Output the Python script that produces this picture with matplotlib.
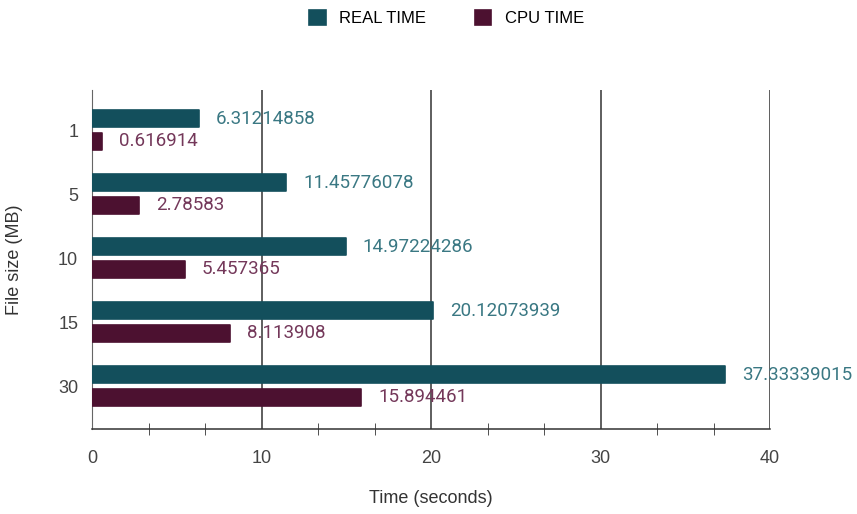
import matplotlib
matplotlib.use('Agg')
import matplotlib.pyplot as plt
import numpy as np
from matplotlib.ticker import MultipleLocator

# data
sizes = ['1', '5', '10', '15', '30']
real_time = [6.31214858, 11.45776078, 14.97224286, 20.12073939, 37.33339015]
cpu_time = [0.616914, 2.78583, 5.457365, 8.113908, 15.894461]
real_labels = ['6.31214858', '11.45776078', '14.97224286', '20.12073939', '37.33339015']
cpu_labels = ['0.616914', '2.78583', '5.457365', '8.113908', '15.894461']

REAL_COLOR = '#134f5c'
CPU_COLOR = '#4c1130'
REAL_TXT = '#3a7883'
CPU_TXT = '#74385a'

fig = plt.figure(figsize=(8.57, 5.14), dpi=100, facecolor='white')
ax = fig.add_axes([0.1074, 0.1654, 0.7911, 0.6595])

y = np.arange(len(sizes))
h = 0.265
off = 0.175

b1 = ax.barh(y - off, real_time, height=h, color=REAL_COLOR,
             edgecolor=REAL_COLOR, linewidth=1.2, joinstyle='round',
             label='REAL TIME', zorder=3)
b2 = ax.barh(y + off, cpu_time, height=h, color=CPU_COLOR,
             edgecolor=CPU_COLOR, linewidth=1.2, joinstyle='round',
             label='CPU TIME', zorder=3)

for bar, txt in zip(b1, real_labels):
    ax.text(bar.get_width() + 1.0, bar.get_y() + bar.get_height() / 2, txt,
            va='center', ha='left', fontsize=13.5, color=REAL_TXT,
            family='Roboto', zorder=4, clip_on=False)
for bar, txt in zip(b2, cpu_labels):
    ax.text(bar.get_width() + 1.0, bar.get_y() + bar.get_height() / 2, txt,
            va='center', ha='left', fontsize=13.5, color=CPU_TXT,
            family='Roboto', zorder=4)

ax.set_xlim(0, 40)
ax.set_ylim(4.67, -0.625)
ax.set_yticks(y)
ax.set_yticklabels(sizes)

ax.xaxis.set_major_locator(MultipleLocator(10))
ax.xaxis.set_minor_locator(MultipleLocator(10 / 3))
ax.grid(axis='x', which='major', color='#333333', linewidth=1.1, zorder=1)

for s in ['top', 'right']:
    ax.spines[s].set_visible(False)
ax.spines['left'].set_color('#666666')
ax.spines['bottom'].set_color('#333333')
ax.spines['bottom'].set_linewidth(1.1)

ax.tick_params(axis='y', length=0, pad=10, labelsize=13, labelcolor='#444444')
ax.tick_params(axis='x', which='both', direction='inout', length=9,
               color='#333333', labelsize=13, labelcolor='#444444', pad=15)
ax.tick_params(axis='x', which='major', length=0)
for lab in ax.get_xticklabels() + ax.get_yticklabels():
    lab.set_family('Liberation Sans')

ax.set_xlabel('Time (seconds)', fontsize=13, color='#333333',
              family='Liberation Sans', labelpad=17)
ax.set_ylabel('File size (MB)', fontsize=13, color='#333333',
              family='Liberation Sans', labelpad=25)

fig.legend(handles=[b1, b2], labels=['REAL TIME', 'CPU TIME'],
           loc='center', bbox_to_anchor=(0.521, 0.965), ncol=2,
           frameon=False, handlelength=1.0, handleheight=1.0,
           handletextpad=0.8, columnspacing=2.9,
           prop={'family': 'Liberation Sans', 'size': 12})

fig.savefig('out.png', dpi=100, facecolor='white')
